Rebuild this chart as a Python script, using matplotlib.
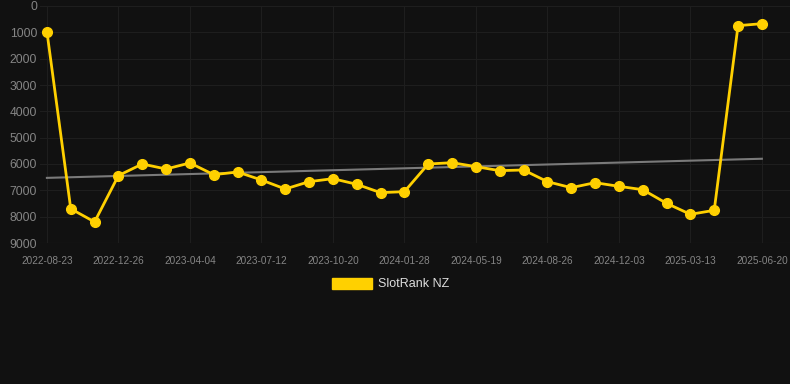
import matplotlib.pyplot as plt
import matplotlib.patches as mpatches
import numpy as np

plt.rcParams["font.family"] = ["Liberation Sans", "DejaVu Sans"]

# Rank history (lower is better, axis is inverted)
ranks = [970, 7700, 8200, 6440, 6000, 6190, 5960, 6405, 6303, 6607,
         6949, 6671, 6557, 6771, 7088, 7050, 6000, 5950, 6100, 6253,
         6227, 6671, 6899, 6709, 6848, 6975, 7493, 7911, 7759, 747, 671]
tick_labels = ["2022-08-23", "2022-12-26", "2023-04-04", "2023-07-12",
               "2023-10-20", "2024-01-28", "2024-05-19", "2024-08-26",
               "2024-12-03", "2025-03-13", "2025-06-20"]
y_ticks = [0, 1000, 2000, 3000, 4000, 5000, 6000, 7000, 8000, 9000]

bg = "#111111"
gold = "#ffd000"

fig = plt.figure(figsize=(7.9, 3.84), dpi=100, facecolor=bg)
ax = fig.add_axes([40 / 790, 1 - 243 / 384, 750 / 790, 237 / 384])
ax.set_facecolor(bg)

x = np.arange(len(ranks))

# linear trend line
slope, intercept = np.polyfit(x, ranks, 1)
ax.plot(x, slope * x + intercept, color="#7a7a7a", linewidth=1.5, zorder=2)

ax.plot(x, ranks, color=gold, linewidth=2.0, marker="o", markersize=7,
        zorder=3)

ax.set_ylim(9000, 0)
ax.set_xlim(-0.29, 31.18)
ax.set_yticks(y_ticks)
ax.set_yticklabels([str(v) for v in y_ticks])
ax.set_xticks(x[::3])
ax.set_xticklabels(tick_labels)

ax.tick_params(axis="y", length=0, labelsize=8.7, labelcolor="#858585", pad=2)
ax.tick_params(axis="x", length=0, labelsize=7.2, labelcolor="#858585", pad=9)
ax.grid(True, color="#1e1e1e", linewidth=0.8)
ax.axhline(9000, color="#2a2a2a", linewidth=0.8, zorder=1)
for s in ax.spines.values():
    s.set_visible(False)

handle = mpatches.Patch(color=gold, label="SlotRank NZ")
fig.legend(handles=[handle], loc="center", bbox_to_anchor=(391 / 790, 1 - 284 / 384),
           frameon=False, fontsize=9, labelcolor="#dddddd",
           handlelength=3.2, handleheight=1.0, handletextpad=0.5)

fig.savefig("out.png", facecolor=bg)
